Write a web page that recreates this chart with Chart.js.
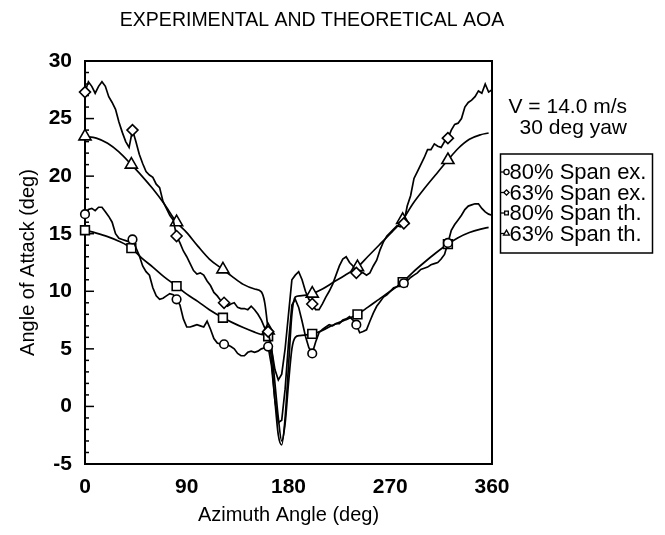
<!DOCTYPE html>
<html><head><meta charset="utf-8">
<script src="https://cdn.jsdelivr.net/npm/chart.js@4/dist/chart.umd.min.js"></script>
<style>html,body{margin:0;padding:0;background:#fff}#wrap{width:665px;height:535px;position:relative}</style>
</head><body><div id="wrap"><canvas id="c" width="665" height="535"></canvas></div>
<script>
const chartTitle = "EXPERIMENTAL AND THEORETICAL AOA";
const xTitle = "Azimuth Angle (deg)";
const yTitle = "Angle of Attack (deg)";
const noteLines = ["V = 14.0 m/s", "30 deg yaw"];
const seriesNames = ["80% Span ex.", "63% Span ex.", "80% Span th.", "63% Span th."];
const seriesMarkers = ["circle", "rectRot", "rect", "triangle"];
const xTicks = [0, 90, 180, 270, 360];
const yTicks = [-5, 0, 5, 10, 15, 20, 25, 30];

const azimuthEx = [0,3,6,9,12,15,18,21,24,27,30,33,36,39,42,45,48,51,54,57,60,63,66,69,72,75,78,81,84,87,90,93,96,99,102,105,108,111,114,117,120,123,126,129,132,135,138,141,144,147,150,153,156,159,162,165,168,171,174,177,180,183,186,189,192,195,198,201,204,207,210,213,216,219,222,225,228,231,234,237,240,243,246,249,252,255,258,261,264,267,270,273,276,279,282,285,288,291,294,297,300,303,306,309,312,315,318,321,324,327,330,333,336,339,342,345,348,351,354,357,360];
const span80Ex = [16.7,17.1,17.2,17.0,17.3,17.3,16.9,16.5,16.0,15.0,14.6,14.5,14.4,14.3,14.5,13.8,13.1,12.2,11.7,11.4,10.3,9.6,9.3,9.4,9.6,9.8,9.7,9.3,8.8,7.6,6.9,6.9,7.0,7.1,7.0,6.9,7.4,6.7,5.9,5.5,5.4,5.4,5.35,5.2,5.0,4.6,4.4,4.4,4.7,4.8,4.7,4.8,5.0,5.1,5.2,3.5,0.5,-1.4,-1.2,1.5,5.5,8.8,9.3,8.6,7.4,6.1,5.1,4.6,5.6,6.4,6.7,6.9,7.1,7.0,7.2,7.2,7.5,7.6,7.8,7.5,7.1,6.4,6.5,6.65,7.4,8.1,8.7,9.1,9.5,9.7,10.0,10.3,10.4,10.6,10.7,10.9,11.2,11.4,11.6,11.9,12.0,12.1,12.3,12.4,12.5,12.8,13.2,14.2,15.3,15.8,16.2,16.6,17.1,17.4,17.5,17.6,17.6,17.2,16.9,16.7,16.6];
const span63Ex = [27.3,28.2,27.8,27.2,27.8,28.2,27.8,26.9,26.4,25.8,24.7,23.8,23.0,22.5,24.0,23.0,21.9,21.1,20.4,20.1,19.9,19.3,19.0,17.8,17.2,16.6,16.2,14.8,14.2,13.5,13.0,12.4,11.8,11.5,11.6,11.4,10.9,10.5,9.9,9.6,9.2,9.0,8.7,8.9,9.0,8.6,8.5,8.5,8.4,8.7,8.4,8.0,7.5,6.8,6.5,5.0,3.2,2.3,2.8,5.0,8.0,11.0,11.4,11.7,11.0,10.0,9.3,8.9,8.4,8.4,8.9,9.5,10.0,10.6,11.4,12.2,12.8,13.0,12.5,12.2,11.6,11.7,11.6,11.4,11.6,12.2,12.7,13.6,14.3,14.8,15.1,15.4,15.7,15.6,15.9,17.4,18.3,19.8,20.4,21.0,21.6,22.3,22.3,22.8,22.6,22.5,23.0,23.3,24.0,24.5,24.6,25.0,26.0,26.4,26.6,26.9,27.4,27.2,28.0,27.3,27.5];
const markerIdxEx = [0,14,27,41,54,67,80,94,107];

const azimuthTh = [0,10,20,30,41,50,60,70,81,90,100,110,122,130,140,150,156,159,162,165,168,171,174,177,180,183,186,190,201,210,220,230,241,250,260,270,281,290,300,310,321,330,340,350,357];
const span80Th = [15.3,15.05,14.75,14.35,13.75,12.9,12.1,11.25,10.45,9.75,9.1,8.4,7.7,7.3,6.85,6.45,6.25,6.2,6.1,5.0,2.0,-1.0,-3.0,-1.5,2.0,5.0,6.0,6.15,6.3,6.6,7.1,7.5,8.0,8.6,9.3,10.0,10.8,11.65,12.5,13.3,14.1,14.65,15.1,15.4,15.55];
const span63Th = [23.45,23.3,22.85,22.1,21.0,20.05,18.9,17.6,16.0,15.1,13.9,12.8,11.9,11.3,10.6,10.2,9.95,9.0,6.6,4.0,0.5,-2.5,-3.35,-1.0,3.5,8.0,9.5,9.6,9.8,10.2,10.8,11.4,12.1,13.0,14.0,15.0,16.2,17.6,18.9,20.1,21.4,22.4,23.2,23.6,23.75];
const markerIdxTh = [0,4,8,12,18,28,32,36,40];

const FONT = '"Liberation Sans", Arial, Helvetica, sans-serif';
const markerRadius = {circle: 4.3, rectRot: 5.5, rect: 6.2, triangle: 7};

function pts(xs, ys) { return xs.map((v, i) => ({x: v, y: ys[i]})); }
function mkDs(label, xs, ys, style, idx, smooth) {
  return {
    label, data: pts(xs, ys), pointStyle: style,
    borderColor: '#000', borderWidth: 1.7, backgroundColor: '#fff',
    pointBackgroundColor: '#fff', pointBorderColor: '#000', pointBorderWidth: 1.6,
    pointRadius: ctx => idx.includes(ctx.dataIndex) ? markerRadius[style] : 0,
    pointHoverRadius: 0, tension: 0, clip: false,
    cubicInterpolationMode: smooth ? 'monotone' : 'default'
  };
}

const decor = {
  id: 'decor',
  beforeDatasetsDraw(chart) {
    const {ctx, chartArea: a, scales: {y}} = chart;
    ctx.save();
    ctx.strokeStyle = '#000';
    ctx.lineWidth = 2;
    ctx.strokeRect(a.left, a.top, a.right - a.left, a.bottom - a.top);
    ctx.lineWidth = 1.5;
    for (let v = yTicks[0]; v <= yTicks[yTicks.length - 1]; v++) {
      const py = y.getPixelForValue(v);
      const len = yTicks.includes(v) ? 9 : 4;
      ctx.beginPath(); ctx.moveTo(a.left, py); ctx.lineTo(a.left + len, py); ctx.stroke();
    }
    ctx.restore();
  },
  afterDraw(chart) {
    const {ctx} = chart;
    ctx.save();
    ctx.fillStyle = '#000';
    ctx.textBaseline = 'middle';
    ctx.textAlign = 'center';
    ctx.font = '19.5px ' + FONT;
    ctx.fillText(chartTitle, 312, 21);
    ctx.textAlign = 'right';
    ctx.font = '21px ' + FONT;
    ctx.fillText(noteLines[0], 627, 107);
    ctx.fillText(noteLines[1], 627, 128);
    // legend box
    ctx.strokeStyle = '#000';
    ctx.lineWidth = 1.5;
    ctx.strokeRect(500.5, 154, 152, 99);
    ctx.textAlign = 'left';
    ctx.font = '22px ' + FONT;
    const rows = [172, 192.5, 213, 233.5];
    chart.data.datasets.forEach((ds, i) => {
      const yy = rows[i];
      ctx.lineWidth = 1.3;
      ctx.beginPath(); ctx.moveTo(501, yy); ctx.lineTo(505, yy); ctx.stroke();
      ctx.fillStyle = '#fff';
      Chart.helpers.drawPoint(ctx, {pointStyle: ds.pointStyle, radius: ds.pointStyle === 'triangle' ? 3.4 : 2.6, rotation: 0, borderWidth: 1.2}, 506.5, yy);
      ctx.fillStyle = '#000';
      ctx.fillText(ds.label, 509.5, yy + 1);
    });
    ctx.restore();
  }
};

new Chart(document.getElementById('c'), {
  type: 'line',
  data: {
    datasets: [
      mkDs(seriesNames[0], azimuthEx, span80Ex, seriesMarkers[0], markerIdxEx, false),
      mkDs(seriesNames[1], azimuthEx, span63Ex, seriesMarkers[1], markerIdxEx, false),
      mkDs(seriesNames[2], azimuthTh, span80Th, seriesMarkers[2], markerIdxTh, true),
      mkDs(seriesNames[3], azimuthTh, span63Th, seriesMarkers[3], markerIdxTh, true)
    ]
  },
  options: {
    responsive: false, animation: false, devicePixelRatio: 1,
    layout: {padding: {top: 61, right: 173, bottom: 0, left: 0}},
    plugins: {legend: {display: false}, tooltip: {enabled: false}, title: {display: false}},
    scales: {
      x: {
        type: 'linear', min: 0, max: 360,
        afterBuildTicks: s => { s.ticks = xTicks.map(v => ({value: v})); },
        afterFit: s => { s.height = 71; },
        grid: {display: false, drawTicks: false}, border: {display: false},
        ticks: {color: '#000', padding: 11, maxRotation: 0, font: {family: FONT, size: 21, weight: 'bold'}},
        title: {display: true, text: xTitle, color: '#000', padding: {top: 0, bottom: 8}, font: {family: FONT, size: 20}}
      },
      y: {
        type: 'linear', min: -5, max: 30,
        afterBuildTicks: s => { s.ticks = yTicks.map(v => ({value: v})); },
        afterFit: s => { s.width = 85; },
        grid: {display: false, drawTicks: false}, border: {display: false},
        ticks: {color: '#000', padding: 13, font: {family: FONT, size: 21, weight: 'bold'}},
        title: {display: true, text: yTitle, color: '#000', padding: {top: 16, bottom: 0}, font: {family: FONT, size: 20}}
      }
    }
  },
  plugins: [decor]
});
</script>
</body></html>
